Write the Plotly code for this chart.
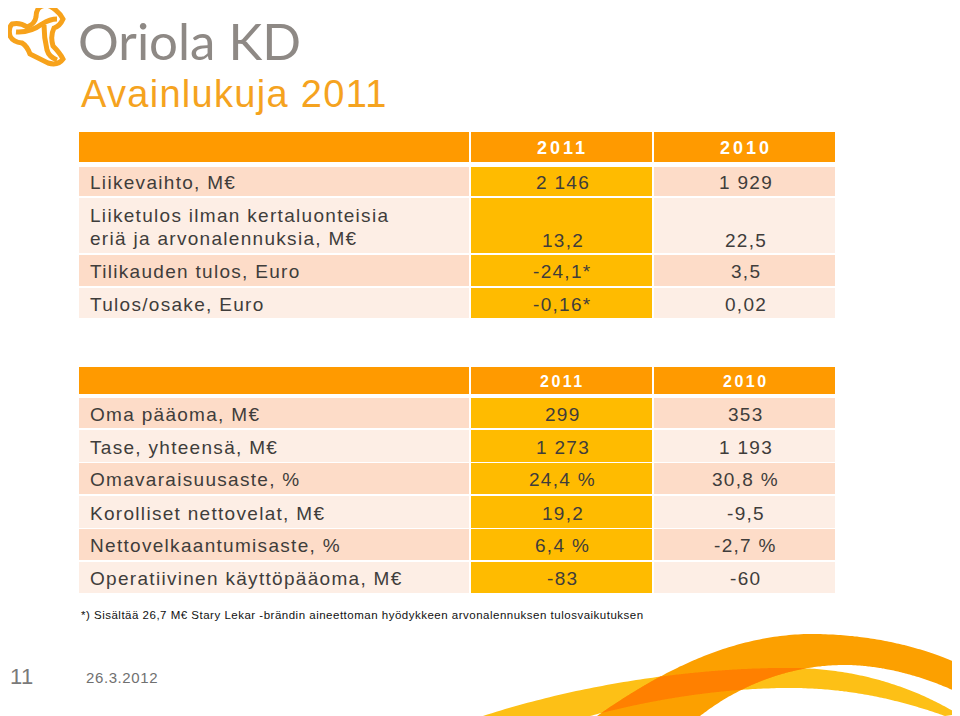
import numpy as np
import plotly.graph_objects as go

# ---------------- data ----------------
years = ["2011", "2010"]

t1_labels = ["Liikevaihto, M€",
             ["Liiketulos ilman kertaluonteisia", "eriä ja arvonalennuksia, M€"],
             "Tilikauden tulos, Euro",
             "Tulos/osake, Euro"]
t1_2011 = ["2 146", "13,2", "-24,1*", "-0,16*"]
t1_2010 = ["1 929", "22,5", "3,5", "0,02"]

t2_labels = ["Oma pääoma, M€", "Tase, yhteensä, M€", "Omavaraisuusaste, %",
             "Korolliset nettovelat, M€", "Nettovelkaantumisaste, %",
             "Operatiivinen käyttöpääoma, M€"]
t2_2011 = ["299", "1 273", "24,4 %", "19,2", "6,4 %", "-83"]
t2_2010 = ["353", "1 193", "30,8 %", "-9,5", "-2,7 %", "-60"]

title = "Avainlukuja 2011"
footnote = "*) Sisältää 26,7 M€ Stary Lekar -brändin aineettoman hyödykkeen arvonalennuksen tulosvaikutuksen"
page_no = "11"
date_txt = "26.3.2012"
logo_txt = "Oriola KD"

# ---------------- layout / style ----------------
# the page body has an 8px margin: the figure is shifted so that axis units equal page pixels
OFF = 8
W, H = 960, 716
ORANGE_HDR = "#FF9A00"
COL1 = "#FFBB00"
PEACH = "#FDDCC8"
LIGHT = "#FDEEE5"
TXT = "#3F3D3B"
FONT = "Liberation Sans, Arial, sans-serif"

col_x = [(79, 469), (471, 652), (654, 835)]
t1_hdr = (132, 162)
t1_rows = [(167, 196), (198, 253), (255, 286), (288, 318)]
t2_hdr = (367, 394)
t2_rows = [(398, 428), (430, 462), (463, 494), (496, 528), (529, 560), (562, 593)]

fig = go.Figure()
shapes = []
ann = []


def sp(s, px):
    return f'<span style="letter-spacing:{px}px">{s}</span>'


def rect(x0, x1, y0, y1, color):
    shapes.append(dict(type="rect", xref="x", yref="y", x0=x0, x1=x1, y0=y0, y1=y1,
                       fillcolor=color, line=dict(width=0), layer="below"))


def text(x, y, s, size, color=TXT, anchor="left", bold=False, spacing=1.0, family=FONT):
    ann.append(dict(x=x, y=y, xref="x", yref="y", text=sp(s, spacing), showarrow=False,
                    xanchor=anchor, yanchor="middle",
                    font=dict(size=size, color=color, family=family,
                              weight="bold" if bold else "normal")))


def table(hdr, rows, labels, v1, v2, hdr_size, hdr_sp, txt_size):
    for (x0, x1) in col_x:
        rect(x0, x1, hdr[0], hdr[1], ORANGE_HDR)
    hy = (hdr[0] + hdr[1]) / 2 + 1
    for (x0, x1), yr in zip(col_x[1:], years):
        text((x0 + x1) / 2 + 1, hy, yr, hdr_size, color="white", anchor="center", bold=True,
             spacing=hdr_sp)
    for i, (y0, y1) in enumerate(rows):
        bg = PEACH if i % 2 == 0 else LIGHT
        rect(col_x[0][0], col_x[0][1], y0, y1, bg)
        rect(col_x[1][0], col_x[1][1], y0, y1, COL1)
        rect(col_x[2][0], col_x[2][1], y0, y1, bg)
        lab = labels[i]
        if isinstance(lab, list):
            text(88, y0 + 17, lab[0], txt_size, spacing=1.3)
            text(88, y0 + 40, lab[1], txt_size, spacing=1.3)
            vy = y0 + 42
        else:
            text(88, (y0 + y1) / 2 + 1, lab, txt_size, spacing=1.3)
            vy = (y0 + y1) / 2 + 1
        text((col_x[1][0] + col_x[1][1]) / 2 + 1, vy, v1[i], txt_size, anchor="center", spacing=1.3)
        text((col_x[2][0] + col_x[2][1]) / 2 + 1, vy, v2[i], txt_size, anchor="center", spacing=1.3)


table(t1_hdr, t1_rows, t1_labels, t1_2011, t1_2010, 18, 3, 19)
table(t2_hdr, t2_rows, t2_labels, t2_2011, t2_2010, 16, 2.5, 19)

# title
text(79, 94, title, 38, color="#F5A31F", spacing=1.3)
# footnote
text(79, 615, footnote, 11.5, color="#111111", spacing=0.5)
# footer
text(OFF, 676, page_no, 22, color="#7A7A7A", spacing=0.5)
text(84, 677, date_txt, 15, color="#707070", spacing=0.6)

# logo text
ann.append(dict(x=76, y=40, xref="x", yref="y", text=logo_txt, showarrow=False,
                xanchor="left", yanchor="middle",
                font=dict(size=51, color="#8E8985", family="Lato, Open Sans, sans-serif")))

# logo icon (approximate)
LOGO = "#F7A21B"
logo_outer = ("M 40,7 Q 47,3 53,8 Q 60,13 63,19 Q 60,26 54,28 Q 50,36 53,46 Q 60,53 63,59 "
              "Q 58,66 48,63 Q 38,58 30,54 Q 27,46 22,43 Q 13,42 10,36 Q 8,28 12,24 "
              "Q 20,22 27,27 Q 35,24 36,17 Q 36,10 40,7 Z")
shapes.append(dict(type="path", xref="x", yref="y", path=logo_outer,
                   fillcolor="white", line=dict(color=LOGO, width=5)))
shapes.append(dict(type="path", xref="x", yref="y",
                   path="M 16,32 Q 30,33 42,24 Q 50,19 57,19",
                   line=dict(color=LOGO, width=5)))
shapes.append(dict(type="path", xref="x", yref="y",
                   path="M 44,25 Q 44,38 47,50 Q 49,57 57,60",
                   line=dict(color=LOGO, width=5)))

# ---------------- swoosh ----------------
def bez(p0, p1, p2, p3, n=80):
    t = np.linspace(0, 1, n)[:, None]
    p0, p1, p2, p3 = map(np.array, (p0, p1, p2, p3))
    pts = (1 - t) ** 3 * p0 + 3 * (1 - t) ** 2 * t * p1 + 3 * (1 - t) * t ** 2 * p2 + t ** 3 * p3
    return pts[:, 0], pts[:, 1]


def edge(*segs):
    xs, ys = [], []
    for s in segs:
        x, y = bez(*s)
        xs.append(x)
        ys.append(y)
    return np.concatenate(xs), np.concatenate(ys)


y_top = edge(((483, 716), (600, 678), (720, 667), (795, 668)),
             ((795, 668), (860, 669), (915, 688), (958, 714)))
y_bot = edge(((590, 716), (650, 700), (720, 688), (790, 688)),
             ((790, 688), (850, 688), (900, 700), (945, 716)))
o_top = edge(((597, 716), (660, 672), (730, 635), (810, 634)),
             ((810, 634), (880, 634), (930, 651), (957, 663)))
o_bot = edge(((700, 716), (740, 685), (790, 665), (845, 665)),
             ((845, 665), (880, 665), (920, 675), (957, 692)))


def poly(xs, ys):
    return "M " + " L ".join(f"{x:.1f},{y:.1f}" for x, y in zip(xs, ys)) + " Z"


yx = np.concatenate([y_top[0], y_bot[0][::-1], [483]])
yy = np.concatenate([y_top[1], y_bot[1][::-1], [716]])
ox = np.concatenate([o_top[0], [957], o_bot[0][::-1]])
oy = np.concatenate([o_top[1], [692], o_bot[1][::-1]])

xs = np.linspace(597, 957, 500)
yt = np.interp(xs, y_top[0], y_top[1], left=716, right=716)
yb = np.interp(xs, y_bot[0], y_bot[1], left=716, right=716)
ot = np.interp(xs, o_top[0], o_top[1], left=716, right=716)
ob = np.interp(xs, o_bot[0], o_bot[1], left=716, right=716)
top = np.maximum(yt, ot)
bot = np.minimum(yb, ob)
m = top < bot
ovx = np.concatenate([xs[m], xs[m][::-1]])
ovy = np.concatenate([top[m], bot[m][::-1]])

for px, py, col in [(yx, yy, "#FDC016"), (ox, oy, "#FCA000"), (ovx, ovy, "#FF8000")]:
    shapes.append(dict(type="path", xref="x", yref="y", path=poly(px, py),
                       fillcolor=col, line=dict(width=0)))

fig.update_layout(
    width=W - OFF, height=H - OFF, margin=dict(l=0, r=0, t=0, b=0),
    paper_bgcolor="white", plot_bgcolor="white",
    xaxis=dict(range=[OFF, W], visible=False, fixedrange=True),
    yaxis=dict(range=[H, OFF], visible=False, fixedrange=True),
    shapes=shapes, annotations=ann, showlegend=False,
)
fig.write_html("out.html")
